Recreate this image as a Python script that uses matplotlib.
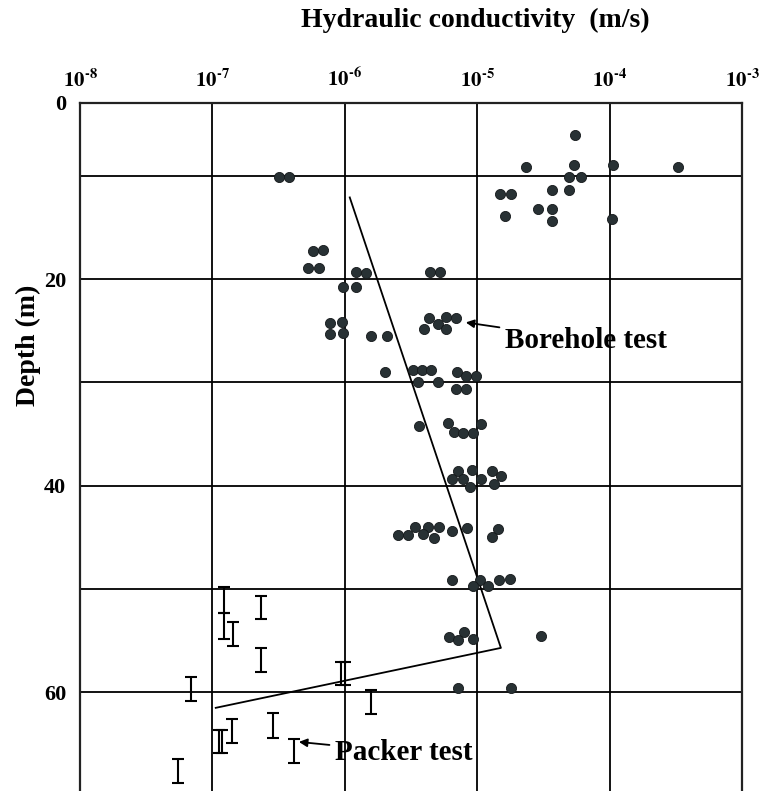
import matplotlib.pyplot as plt
import numpy as np

plt.rcParams['font.family'] = ['Liberation Serif', 'DejaVu Serif']
plt.rcParams['font.weight'] = 'bold'
plt.rcParams['mathtext.fontset'] = 'stix'

# borehole tests: hydraulic conductivity (m/s) and depth (m)
borehole_k = [5.5e-5, 2.35e-5, 5.4e-5, 1.06e-4, 3.27e-4, 4.9e-5, 6.1e-5, 1.49e-5, 1.79e-5,
              3.66e-5, 4.9e-5, 2.86e-5, 3.66e-5, 1.62e-5, 3.67e-5, 1.05e-4, 3.18e-7, 3.81e-7,
              5.73e-7, 6.89e-7, 5.27e-7, 6.35e-7, 1.22e-6, 1.45e-6, 4.41e-6, 5.28e-6, 9.68e-7,
              1.22e-6, 7.73e-7, 9.57e-7, 7.73e-7, 9.68e-7, 1.58e-6, 2.08e-6, 4.35e-6, 5.78e-6,
              6.92e-6, 3.98e-6, 5.04e-6, 5.78e-6, 2.02e-6, 3.26e-6, 3.83e-6, 4.5e-6, 3.59e-6,
              5.06e-6, 7.0e-6, 8.29e-6, 9.79e-6, 6.89e-6, 8.27e-6, 3.63e-6, 6.05e-6, 6.64e-6,
              7.85e-6, 9.25e-6, 1.06e-5, 7.19e-6, 9.18e-6, 1.29e-5, 6.46e-6, 7.82e-6, 1.07e-5,
              1.51e-5, 1.33e-5, 8.83e-6, 3.4e-6, 4.28e-6, 5.14e-6, 2.51e-6, 3.02e-6, 3.87e-6,
              4.69e-6, 6.46e-6, 8.34e-6, 1.44e-5, 1.29e-5, 6.41e-6, 1.05e-5, 1.47e-5, 1.77e-5,
              9.35e-6, 1.21e-5, 6.12e-6, 8.0e-6, 7.13e-6, 9.29e-6, 3.02e-5, 7.13e-6, 1.8e-5]
borehole_depth = [6.06, 9.13, 8.99, 8.99, 9.19, 10.15, 10.13, 11.77, 11.77,
                  11.38, 11.36, 13.19, 13.19, 13.9, 14.41, 14.16, 10.15, 10.15,
                  17.29, 17.22, 18.96, 18.96, 19.32, 19.39, 19.29, 19.32, 20.75,
                  20.75, 24.29, 24.16, 25.32, 25.2, 25.55, 25.52, 23.75, 23.65,
                  23.8, 24.81, 24.36, 24.84, 28.97, 28.81, 28.81, 28.81, 29.92,
                  29.92, 29.0, 29.4, 29.4, 30.65, 30.65, 34.18, 33.97, 34.84,
                  34.88, 34.88, 34.01, 38.56, 38.52, 38.62, 39.39, 39.36, 39.39,
                  39.1, 39.87, 40.14, 43.98, 44.01, 44.01, 44.81, 44.81, 44.71,
                  45.04, 44.39, 44.13, 44.2, 45.01, 49.14, 49.14, 49.17, 49.07,
                  49.75, 49.75, 54.61, 54.2, 54.9, 54.85, 54.53, 59.62, 59.59]

# packer tests: conductivity and tested depth interval
packer_k = [1.23e-7, 1.23e-7, 1.43e-7, 2.32e-7, 2.32e-7, 6.88e-8, 9.4e-7, 1.01e-6,
            1.57e-6, 1.41e-7, 1.13e-7, 1.18e-7, 2.87e-7, 4.16e-7, 5.5e-8]
packer_top = [49.8, 52.3, 53.2, 50.7, 55.7, 58.5, 57.1, 57.1,
              59.8, 62.6, 63.6, 63.6, 62.0, 64.5, 66.5]
packer_bottom = [52.3, 54.8, 55.5, 52.9, 58.0, 60.8, 59.3, 59.3,
                 62.1, 64.9, 65.9, 65.9, 64.4, 66.8, 68.8]

# trend line
trend_k = [1.09e-6, 1.51e-5, 1.06e-7]
trend_depth = [12.1, 55.7, 61.5]

decades = [-8, -7, -6, -5, -4, -3]
depth_ticks = [10, 20, 30, 40, 50, 60]
depth_top = 2.96
depth_bottom = 69.55

fig = plt.figure(figsize=(7.65, 7.91), dpi=100)
ax = fig.add_axes([80 / 765, 0.0, 662 / 765, 1 - 103 / 791])

ax.set_xscale('log')
ax.set_xlim(1e-8, 1e-3)
ax.set_ylim(depth_bottom, depth_top)

ax.plot(trend_k, trend_depth, color='k', lw=1.3, zorder=3)

pk = np.array(packer_k)
top = np.array(packer_top)
bot = np.array(packer_bottom)
mid = (top + bot) / 2
ax.errorbar(pk, mid, yerr=(bot - top) / 2, fmt='none', ecolor='k',
            elinewidth=1.5, capsize=4, capthick=1.5, zorder=3)

ax.plot(borehole_k, borehole_depth, 'o', ms=7.3, color='#283134',
        mec='#15191b', mew=0.6, zorder=4)

ax.xaxis.tick_top()
ax.set_xticks([10.0 ** d for d in decades])
ax.set_xticklabels([r'$\mathbf{10}^{\text{-%d}}$' % -d for d in decades])
ax.minorticks_off()
ax.set_yticks([depth_top] + depth_ticks)
ax.set_yticklabels(['0', '', '20', '', '40', '', '60'])
ax.tick_params(axis='x', length=0, pad=8, labelsize=15)
ax.tick_params(axis='y', length=0, pad=10, labelsize=16)
for lbl in ax.get_yticklabels():
    lbl.set_fontweight('bold')

ax.grid(True, color='k', lw=1.3)
ax.set_axisbelow(True)
ax.spines['bottom'].set_visible(False)
for s in ['top', 'left', 'right']:
    ax.spines[s].set_linewidth(1.6)
    ax.spines[s].set_color('#222222')

ax.annotate('Borehole test', xy=(8.2e-6, 24.2), xytext=(1.62e-5, 25.9),
            fontsize=21, fontweight='bold', va='center', ha='left',
            arrowprops=dict(arrowstyle='-|>', color='k', lw=1.3, mutation_scale=12,
                            shrinkA=2, shrinkB=0))
ax.annotate('Packer test', xy=(4.5e-7, 64.8), xytext=(8.43e-7, 65.8),
            fontsize=21, fontweight='bold', va='center', ha='left',
            arrowprops=dict(arrowstyle='-|>', color='k', lw=1.3, mutation_scale=12,
                            shrinkA=2, shrinkB=0))

fig.text(475 / 765, 1 - 20 / 791, 'Hydraulic conductivity  (m/s)', fontsize=20,
         fontweight='bold', ha='center', va='center')
fig.text(28 / 765, 1 - 345 / 791, 'Depth (m)', fontsize=20, fontweight='bold',
         rotation=90, ha='center', va='center')

fig.savefig('out.png', dpi=100)
